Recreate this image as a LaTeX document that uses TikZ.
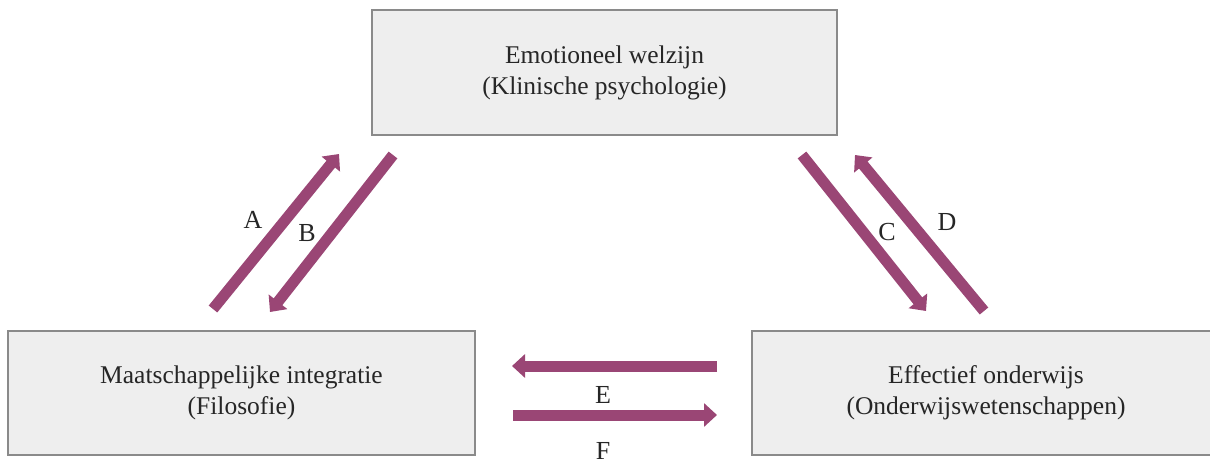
\documentclass[tikz,border=0pt]{standalone}
\usepackage{fontspec}
\setmainfont{Liberation Serif}
\usetikzlibrary{arrows.meta}
\definecolor{arrowc}{HTML}{9A4675}
\definecolor{boxfill}{HTML}{EEEEEE}
\definecolor{boxline}{HTML}{8A8A8A}
\definecolor{txt}{HTML}{262626}
\begin{document}
\begin{tikzpicture}[x=1pt,y=-1pt,
  box/.style={draw=boxline, line width=1.5pt, fill=boxfill, text=txt, align=center,
    font=\fontsize{25.5}{31}\selectfont, inner sep=0pt},
  flow/.style={draw=arrowc, line width=11pt, -{Triangle[width=23pt,length=13pt]}},
  lab/.style={text=txt, font=\fontsize{26}{31}\selectfont, inner sep=0pt}]
\clip (0,0) rectangle (1210,466);
\fill[white] (0,0) rectangle (1210,466);

\node[box, minimum width=465pt, minimum height=125pt] (emo) at (604.5,72.5)
  {Emotioneel welzijn\\(Klinische psychologie)};
\node[box, minimum width=467pt, minimum height=124pt] (maat) at (241.5,393)
  {Maatschappelijke integratie\\(Filosofie)};
\node[box, minimum width=468pt, minimum height=124pt] (eff) at (986,393)
  {Effectief onderwijs\\(Onderwijswetenschappen)};

\coordinate (a1) at (213,309); \coordinate (a2) at (339,154);
\coordinate (b1) at (393,155); \coordinate (b2) at (270,312);
\coordinate (c1) at (802,155); \coordinate (c2) at (926,311);
\coordinate (d1) at (984,311); \coordinate (d2) at (855,155);
\coordinate (e1) at (717,366); \coordinate (e2) at (512,366);
\coordinate (f1) at (513,415); \coordinate (f2) at (717,415);

\draw[flow] (a1) -- (a2);
\draw[flow] (b1) -- (b2);
\draw[flow] (c1) -- (c2);
\draw[flow] (d1) -- (d2);
\draw[flow] (e1) -- (e2);
\draw[flow] (f1) -- (f2);

\node[lab] (la) at (253,220) {A};
\node[lab] (lb) at (307,233) {B};
\node[lab] (lc) at (887,232) {C};
\node[lab] (ld) at (947,222) {D};
\node[lab] (le) at (603,395) {E};
\node[lab] (lf) at (603,451) {F};
\end{tikzpicture}
\end{document}
